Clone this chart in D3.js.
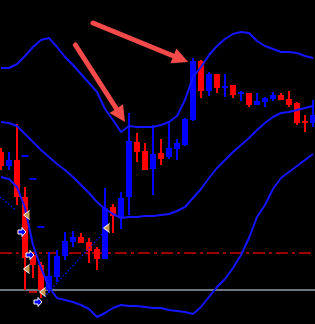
<!DOCTYPE html>
<html>
<head>
<meta charset="utf-8">
<script src="https://cdn.jsdelivr.net/npm/d3@7"></script>
<style>
html, body { margin: 0; padding: 0; background: #000; overflow: hidden; }
svg { display: block; }
</style>
</head>
<body>
<svg id="chart"></svg>
<script>
// bar data (price points)
var opens  = [248,234,240,203,145,135,110,123,144,158,163,158,151,141,193,182,203,258,249,231,247,243,251,255,280,339,309,326,312,315,306,307,295,298,301,305,301,297,279,277];
var highs  = [252,248,276,213,148,138,148,150,168,169,167,162,153,212,196,208,287,267,257,275,261,277,261,282,342,340,328,326,326,315,309,307,307,303,308,307,309,298,285,300];
var lows   = [230,230,195,110,122,102,107,118,140,153,157,137,130,141,167,171,185,238,230,205,235,241,240,254,279,302,304,307,303,302,299,293,295,293,299,300,293,275,268,273];
var closes = [234,240,203,142,135,110,124,144,159,163,157,149,141,192,184,202,259,248,230,246,241,252,257,281,339,309,326,312,314,305,308,295,299,302,305,300,295,277,277,285];

// bollinger bands
var upperBand  = [332,332,336,344,353,360,362,353,343,335,326,317,308,291,280,268,274,273,273,273,275,278,284,300,323,333,345,354,361,366,368,367,359,354,351,348,348,347,344,342];
var middleBand = [278,277,274,266,258,250,243,236,230,223,215,207,198,191,186,182,183,183,184,184,185,186,189,193,202,211,222,232,240,248,255,262,270,277,283,287,288,290,292,294];
var lowerBand  = [223,221,213,192,155,132,113,102,100,98,95,91,83,87,92,95,94,94,93,92,92,90,89,88,86,93,103,113,121,132,145,162,183,195,211,222,228,234,240,246];

// horizontal levels
var dashDotLevel = 147;
var greyLevel = 110;

// signal marks
var triIndex = [3, 3, 5, 13], triPrice = [185, 131, 108, 172];
var pointerIndex = [3, 4, 5], pointerPrice = [168, 145, 98];
var blueDashIndex = [3, 4, 5], blueDashPrice = [244, 221, 173];
var redDashIndex = [4], redDashPrice = [108];

// dotted trend lines [index, price]
var trendStart = [[-0.125, 203], [5.375, 103]];
var trendEnd   = [[1.875, 190], [12.875, 168]];

// red annotation arrows [index, price]
var arrowTail = [[9.3, 355], [11.5, 377]];
var arrowTip  = [[15.5, 278], [23.4, 338]];

var width = 315, height = 324;

var svg = d3.select('#chart')
    .attr('width', width)
    .attr('height', height);

svg.append('rect')
    .attr('width', width)
    .attr('height', height)
    .attr('fill', '#000');

var x = d3.scaleLinear().domain([0, 39]).range([1, 313]);
var y = d3.scaleLinear().domain([76, 400]).range([height, 0]);

var bars = opens.map(function (o, i) {
    return { i: i, o: o, h: highs[i], l: lows[i], c: closes[i] };
});

// horizontal lines
svg.append('line')
    .attr('x1', 0).attr('x2', width)
    .attr('y1', y(dashDotLevel)).attr('y2', y(dashDotLevel))
    .attr('stroke', '#d00000')
    .attr('stroke-width', 1.5)
    .attr('stroke-dasharray', '12,4,3,4');

svg.append('line')
    .attr('x1', 0).attr('x2', width)
    .attr('y1', y(greyLevel)).attr('y2', y(greyLevel))
    .attr('stroke', '#8c9cac')
    .attr('stroke-width', 1.5);

// candles
var candles = svg.append('g');

candles.selectAll('.wick')
    .data(bars)
    .enter()
    .append('rect')
    .attr('class', 'wick')
    .attr('x', function (d) { return x(d.i) - 1; })
    .attr('y', function (d) { return y(d.h); })
    .attr('width', 2)
    .attr('height', function (d) { return Math.max(1, y(d.l) - y(d.h)); })
    .attr('fill', function (d) { return d.c >= d.o ? '#0000ff' : '#ff0000'; });

candles.selectAll('.body')
    .data(bars)
    .enter()
    .append('rect')
    .attr('class', 'body')
    .attr('x', function (d) { return x(d.i) - 3; })
    .attr('y', function (d) { return y(Math.max(d.o, d.c)); })
    .attr('width', 6)
    .attr('height', function (d) { return Math.max(2, Math.abs(y(d.o) - y(d.c))); })
    .attr('fill', function (d) { return d.c >= d.o ? '#0000ff' : '#ff0000'; });

// short dashes
svg.selectAll('.bdash')
    .data(blueDashIndex)
    .enter()
    .append('line')
    .attr('x1', function (d) { return x(d) - 3.5; })
    .attr('x2', function (d) { return x(d) + 3.5; })
    .attr('y1', function (d, i) { return y(blueDashPrice[i]); })
    .attr('y2', function (d, i) { return y(blueDashPrice[i]); })
    .attr('stroke', '#0000ff')
    .attr('stroke-width', 2);

svg.selectAll('.rdash')
    .data(redDashIndex)
    .enter()
    .append('line')
    .attr('x1', function (d) { return x(d) - 4; })
    .attr('x2', function (d) { return x(d) + 4; })
    .attr('y1', function (d, i) { return y(redDashPrice[i]); })
    .attr('y2', function (d, i) { return y(redDashPrice[i]); })
    .attr('stroke', '#ff0000')
    .attr('stroke-width', 1.5);

// bands
var line = d3.line()
    .x(function (d, i) { return x(i); })
    .y(function (d) { return y(d); });

[upperBand, middleBand, lowerBand].forEach(function (band) {
    svg.append('path')
        .datum(band)
        .attr('fill', 'none')
        .attr('stroke', '#1414ff')
        .attr('stroke-width', 2)
        .attr('stroke-linejoin', 'round')
        .attr('d', line);
});

// dotted trend lines
trendStart.forEach(function (s, k) {
    svg.append('line')
        .attr('x1', x(s[0])).attr('y1', y(s[1]))
        .attr('x2', x(trendEnd[k][0])).attr('y2', y(trendEnd[k][1]))
        .attr('stroke', '#0000ff')
        .attr('stroke-width', 1.2)
        .attr('stroke-dasharray', '1.5,2');
});

// triangle signals
var tri = svg.selectAll('.tri')
    .data(triIndex)
    .enter()
    .append('g')
    .attr('transform', function (d, i) {
        return 'translate(' + (x(d) + 1.5) + ',' + y(triPrice[i]) + ')';
    });
tri.append('path')
    .attr('d', 'M-3,0 L3,-4.5 L3,4.5 Z')
    .attr('fill', '#c49a56');
tri.append('path')
    .attr('d', 'M3,-4.5 L-3,0 L3,4.5')
    .attr('fill', 'none')
    .attr('stroke', '#ffffff')
    .attr('stroke-width', 1);

// pointer signals
svg.selectAll('.ptr')
    .data(pointerIndex)
    .enter()
    .append('path')
    .attr('transform', function (d, i) {
        return 'translate(' + (x(d) - 3) + ',' + y(pointerPrice[i]) + ')';
    })
    .attr('d', 'M-4,-2 L0,-2 L0,-4.5 L4,0 L0,4.5 L0,2 L-4,2 Z')
    .attr('fill', '#0000ff')
    .attr('stroke', '#ffffff')
    .attr('stroke-width', 1);

// red arrows
arrowTail.forEach(function (t, k) {
    var x0 = x(t[0]), y0 = y(t[1]),
        x1 = x(arrowTip[k][0]), y1 = y(arrowTip[k][1]);
    var dx = x1 - x0, dy = y1 - y0,
        len = Math.sqrt(dx * dx + dy * dy),
        ux = dx / len, uy = dy / len;
    var headLen = 16, headW = 8;
    var bx = x1 - ux * headLen, by = y1 - uy * headLen;

    svg.append('line')
        .attr('x1', x0).attr('y1', y0)
        .attr('x2', bx + ux * 2).attr('y2', by + uy * 2)
        .attr('stroke', '#f44a4a')
        .attr('stroke-width', 5)
        .attr('stroke-linecap', 'round');

    svg.append('path')
        .attr('d', 'M' + x1 + ',' + y1 +
            'L' + (bx - uy * headW) + ',' + (by + ux * headW) +
            'L' + (bx + uy * headW) + ',' + (by - ux * headW) + 'Z')
        .attr('fill', '#f44a4a');
});
</script>
</body>
</html>
